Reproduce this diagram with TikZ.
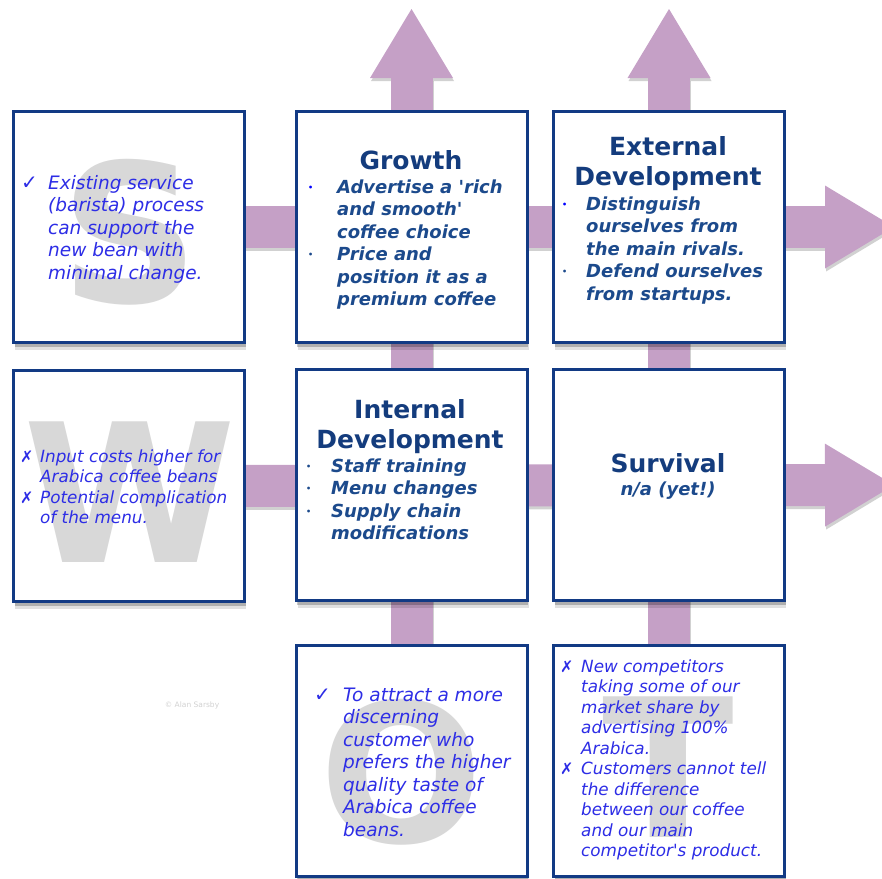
\documentclass[tikz,border=0pt]{standalone}
\usepackage{fontspec}
\setmainfont{DejaVu Sans}
\usepackage{xcolor}
\usetikzlibrary{arrows.meta,shadows,backgrounds}

\definecolor{boxblue}{RGB}{18,58,132}
\definecolor{headblue}{RGB}{20,60,125}
\definecolor{itemblue}{RGB}{28,74,140}
\definecolor{swotblue}{RGB}{45,45,230}
\definecolor{arrowpink}{RGB}{197,160,198}
\definecolor{lettergray}{RGB}{216,216,216}

\newcommand{\dotmark}[1]{\raisebox{3pt}{\textcolor{#1}{\fontsize{8}{8}\selectfont\textbullet}}}
\newcommand{\ckmark}{{\upshape\fontsize{20}{20}\selectfont ✓}}
\newcommand{\xmark}{{\upshape\fontsize{16}{16}\selectfont ✗}}

\tikzset{
  swotbox/.style={draw=boxblue, line width=3pt, fill=white,
    minimum width=231pt, minimum height=231pt, inner sep=0pt,
    general shadow={fill=black, opacity=.12, shadow xshift=1.5pt, shadow yshift=-7pt},
    general shadow={fill=black, opacity=.22, shadow xshift=1pt, shadow yshift=-4pt}},
  bigarrow/.style={line width=42pt, draw=arrowpink,
    -{Triangle[width=83pt,length=69pt,line width=0pt]}},
  arrowshade/.style={bigarrow, draw=black, opacity=.18,
    transform canvas={xshift=1pt,yshift=-3pt}},
  bigletter/.style={font=\bfseries\fontsize{193}{193}\selectfont, text=lettergray, inner sep=0pt},
  heading/.style={font=\bfseries\fontsize{25}{30}\selectfont, text=headblue, inner sep=0pt, anchor=base},
  itemtext/.style={font=\bfseries\itshape\fontsize{18}{22.5}\selectfont, text=itemblue, inner sep=0pt, anchor=base west},
  swot/.style={font=\itshape\fontsize{18.5}{22.5}\selectfont, text=swotblue, inner sep=0pt, anchor=base west},
  swotsmall/.style={swot, font=\itshape\fontsize{16.8}{20.5}\selectfont},
  credit/.style={font=\fontsize{7.5}{9}\selectfont, text=black!18, inner sep=0pt}
}

\begin{document}
\begin{tikzpicture}[x=1pt, y=-1pt]
\useasboundingbox (0,0) rectangle (882,878);

\node[swotbox] (s)    at (129,227)   {};
\node[swotbox] (grow) at (411.5,227) {};
\node[swotbox] (ext)  at (669,227)   {};
\node[swotbox] (w)    at (129,486)   {};
\node[swotbox] (int)  at (411.5,485) {};
\node[swotbox] (surv) at (669,485)   {};
\node[swotbox] (o)    at (411.5,761) {};
\node[swotbox] (t)    at (669,761)   {};

\coordinate (growtip) at (411.5,9);
\coordinate (exttip)  at (669,9);
\coordinate (rowatip) at (894,227);
\coordinate (rowbtip) at (894,485);

% arrows behind the boxes
\begin{scope}[on background layer]
\draw[arrowshade] (s.center) -- (rowatip);
\draw[arrowshade] (w.center) -- (rowbtip);
\draw[arrowshade] (o.center) -- (growtip);
\draw[arrowshade] (t.center) -- (exttip);
\draw[bigarrow] (s.center) -- (rowatip);
\draw[bigarrow] (w.center) -- (rowbtip);
\draw[bigarrow] (o.center) -- (growtip);
\draw[bigarrow] (t.center) -- (exttip);
\end{scope}

\node[bigletter] (lets) at (130,232) {S};
\node[bigletter] (letw) at (130,492) {W};
\node[bigletter] (leto) at (402,772) {O};
\node[bigletter] (lett) at (668,767) {T};

\node[credit] (credit) at (192,705) {© Alan Sarsby};

\node[swot] (stext) at (21,189) {\begin{tabular}[t]{@{}p{27pt}@{}l@{}}
  \ckmark & Existing service\\
  & (barista) process\\
  & can support the\\
  & new bean with\\
  & minimal change.
\end{tabular}};

\node[heading] (growhead) at (411,169) {Growth};
\node[itemtext] (growtext) at (308,193) {\begin{tabular}[t]{@{}p{29pt}@{}l@{}}
  \dotmark{blue} & Advertise a \textquotesingle rich\\
  & and smooth\textquotesingle\\
  & coffee choice\\
  \dotmark{itemblue} & Price and\\
  & position it as a\\
  & premium coffee
\end{tabular}};

\node[heading] (exthead) at (668,155) {\begin{tabular}[t]{@{}c@{}}External\\Development\end{tabular}};
\node[itemtext] (exttext) at (562,210) {\begin{tabular}[t]{@{}p{24pt}@{}l@{}}
  \dotmark{blue} & Distinguish\\
  & ourselves from\\
  & the main rivals.\\
  \dotmark{itemblue} & Defend ourselves\\
  & from startups.
\end{tabular}};

\node[swotsmall] (wtext) at (20,462) {\begin{tabular}[t]{@{}p{20pt}@{}l@{}}
  \xmark & Input costs higher for\\
  & Arabica coffee beans\\
  \xmark & Potential complication\\
  & of the menu.
\end{tabular}};

\node[heading] (inthead) at (410,418) {\begin{tabular}[t]{@{}c@{}}Internal\\Development\end{tabular}};
\node[itemtext] (inttext) at (306,472) {\begin{tabular}[t]{@{}p{25pt}@{}l@{}}
  \dotmark{itemblue} & Staff training\\
  \dotmark{itemblue} & Menu changes\\
  \dotmark{itemblue} & Supply chain\\
  & modifications
\end{tabular}};

\node[heading] (survhead) at (668,472) {Survival};
\node[itemtext, anchor=base] (survtext) at (668,495) {n/a (yet!)};

\node[swot] (otext) at (314,701) {\begin{tabular}[t]{@{}p{29pt}@{}l@{}}
  \ckmark & To attract a more\\
  & discerning\\
  & customer who\\
  & prefers the higher\\
  & quality taste of\\
  & Arabica coffee\\
  & beans.
\end{tabular}};

\node[swotsmall] (ttext) at (560,672) {\begin{tabular}[t]{@{}p{21pt}@{}l@{}}
  \xmark & New competitors\\
  & taking some of our\\
  & market share by\\
  & advertising 100\%\\
  & Arabica.\\
  \xmark & Customers cannot tell\\
  & the difference\\
  & between our coffee\\
  & and our main\\
  & competitor\textquotesingle s product.
\end{tabular}};
\end{tikzpicture}
\end{document}
